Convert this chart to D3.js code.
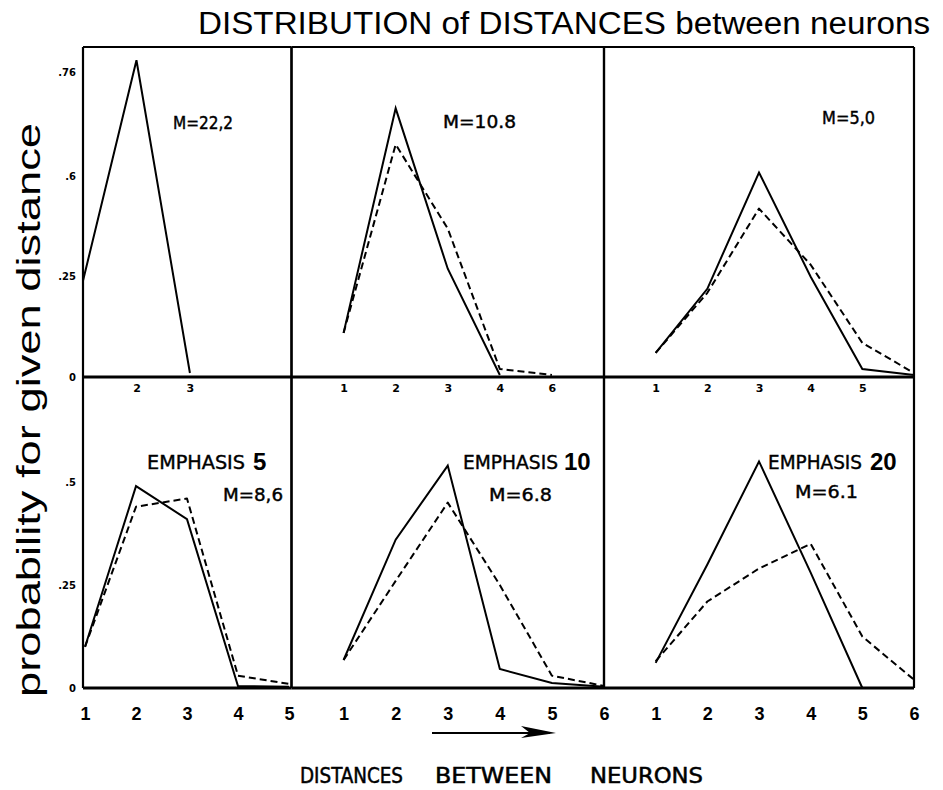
<!DOCTYPE html>
<html>
<head>
<meta charset="utf-8">
<script src="https://cdn.jsdelivr.net/npm/d3@7"></script>
<style>
  body { margin: 0; background: #fff; }
  svg { display: block; }
</style>
</head>
<body>
<script>
// ---- data: distance between neurons (x) and probability for that distance (y)
const distTopLeft = [1, 2, 3];
const solidTopLeft = [0.24, 0.79, 0.01];

const distTopMid = [1, 2, 3, 4, 5];
const solidTopMid = [0.11, 0.67, 0.27, 0.005];
const dashedTopMid = [0.11, 0.58, 0.37, 0.02, 0.005];

const distTopRight = [1, 2, 3, 4, 5, 6];
const solidTopRight = [0.06, 0.22, 0.51, 0.25, 0.02, 0.005];
const dashedTopRight = [0.06, 0.21, 0.42, 0.28, 0.085, 0.01];

const distBotLeft = [1, 2, 3, 4, 5];
const solidBotLeft = [0.10, 0.49, 0.41, 0.005, 0.003];
const dashedBotLeft = [0.10, 0.44, 0.46, 0.03, 0.01];

const distBotMid = [1, 2, 3, 4, 5, 6];
const solidBotMid = [0.068, 0.36, 0.54, 0.046, 0.012, 0.003];
const dashedBotMid = [0.068, 0.26, 0.45, 0.25, 0.03, 0.005];

const distBotRight = [1, 2, 3, 4, 5, 6];
const solidBotRight = [0.061, 0.30, 0.55, 0.28, 0.0];
const dashedBotRight = [0.065, 0.21, 0.29, 0.35, 0.125, 0.02];

// ---- tick values and their hand-lettered labels
const yTicksTop = [0, 0.25, 0.5, 0.76];
const yLabelsTop = ["0", ".25", ".6", ".76"];
const yTicksBot = [0, 0.25, 0.5];
const yLabelsBot = ["0", ".25", ".5"];

const xTicksTopLeft = [2, 3];
const xLabelsTopLeft = ["2", "3"];
const xTicksTopMid = [1, 2, 3, 4, 5];
const xLabelsTopMid = ["1", "2", "3", "4", "6"];
const xTicksTopRight = [1, 2, 3, 4, 5];
const xLabelsTopRight = ["1", "2", "3", "4", "5"];
const xTicksBotLeft = [1, 2, 3, 4, 5];
const xLabelsBotLeft = ["1", "2", "3", "4", "5"];
const xTicksBotMid = [1, 2, 3, 4, 5, 6];
const xLabelsBotMid = ["1", "2", "3", "4", "5", "6"];
const xTicksBotRight = [1, 2, 3, 4, 5, 6];
const xLabelsBotRight = ["1", "2", "3", "4", "5", "6"];

// ---- panel annotations
const meanLabels = ["M=22,2", "M=10.8", "M=5,0", "M=8,6", "M=6.8", "M=6.1"];
const emphasisWords = ["", "", "", "EMPHASIS", "EMPHASIS", "EMPHASIS"];
const emphasisValues = ["", "", "", "5", "10", "20"];

const titleText = "DISTRIBUTION of DISTANCES between neurons";
const yTitleText = "probability for given distance";
const xTitleWords = ["DISTANCES", "BETWEEN", "NEURONS"];

// ---- layout
const W = 943, H = 790;
const colEdges = [[83, 291.5], [291.5, 604], [604, 914]];
const rowEdges = [[47, 377], [377, 688]];
const letterFont = "'DejaVu Sans Condensed', 'Liberation Sans Narrow', 'DejaVu Sans', sans-serif";
const helv = "'Liberation Sans', Arial, sans-serif";

const svg = d3.select("body").append("svg")
  .attr("width", W).attr("height", H)
  .attr("viewBox", `0 0 ${W} ${H}`);

const yTop = d3.scaleLinear().domain([0, 0.823]).range([rowEdges[0][1], rowEdges[0][0]]);
const yBot = d3.scaleLinear().domain([0, 0.755]).range([rowEdges[1][1], rowEdges[1][0]]);

const panels = [
  { row: 0, col: 0, xDomain: [1, 4.9], dist: distTopLeft, solid: solidTopLeft, dashed: null,
    ticks: xTicksTopLeft, labels: xLabelsTopLeft,
    mean: { x: 173, y: 129, w: 60 } },
  { row: 0, col: 1, xDomain: [0, 6], dist: distTopMid, solid: solidTopMid, dashed: dashedTopMid,
    ticks: xTicksTopMid, labels: xLabelsTopMid,
    mean: { x: 443, y: 128, w: 73 } },
  { row: 0, col: 2, xDomain: [0, 6], dist: distTopRight, solid: solidTopRight, dashed: dashedTopRight,
    ticks: xTicksTopRight, labels: xLabelsTopRight,
    mean: { x: 822, y: 124, w: 53 } },
  { row: 1, col: 0, xDomain: [0.96, 5.05], dist: distBotLeft, solid: solidBotLeft, dashed: dashedBotLeft,
    ticks: xTicksBotLeft, labels: xLabelsBotLeft,
    mean: { x: 223, y: 501, w: 60 }, emph: { x: 147, y: 469, w: 98, vx: 253 } },
  { row: 1, col: 1, xDomain: [0, 6], dist: distBotMid, solid: solidBotMid, dashed: dashedBotMid,
    ticks: xTicksBotMid, labels: xLabelsBotMid,
    mean: { x: 489, y: 501, w: 63 }, emph: { x: 463, y: 469, w: 95, vx: 564 } },
  { row: 1, col: 2, xDomain: [0, 6], dist: distBotRight, solid: solidBotRight, dashed: dashedBotRight,
    ticks: xTicksBotRight, labels: xLabelsBotRight,
    mean: { x: 795, y: 498, w: 63 }, emph: { x: 768, y: 469, w: 94, vx: 870 } }
];

panels.forEach((p, i) => {
  const [x0, x1] = colEdges[p.col];
  const [yTopEdge, yBase] = rowEdges[p.row];
  const x = d3.scaleLinear().domain(p.xDomain).range([x0, x1]);
  const y = p.row === 0 ? yTop : yBot;
  const g = svg.append("g");

  // panel frame
  g.append("line").attr("x1", x0).attr("x2", x0).attr("y1", yTopEdge).attr("y2", yBase)
    .attr("stroke", "#000").attr("stroke-width", 2.2);
  g.append("line").attr("x1", x1).attr("x2", x1).attr("y1", yTopEdge).attr("y2", yBase)
    .attr("stroke", "#000").attr("stroke-width", 2.2);
  if (p.row === 0) {
    g.append("line").attr("x1", x0).attr("x2", x1).attr("y1", yTopEdge).attr("y2", yTopEdge)
      .attr("stroke", "#000").attr("stroke-width", 2.2);
  }

  const line = d3.line().x(d => x(d[0])).y(d => y(d[1]));

  if (p.dashed) {
    g.append("path").datum(d3.zip(p.dist, p.dashed))
      .attr("d", line).attr("fill", "none").attr("stroke", "#000")
      .attr("stroke-width", 2).attr("stroke-dasharray", "7,4")
      .attr("stroke-linejoin", "round");
  }
  g.append("path").datum(d3.zip(p.dist, p.solid))
    .attr("d", line).attr("fill", "none").attr("stroke", "#000")
    .attr("stroke-width", 2).attr("stroke-linejoin", "miter");

  // baseline
  g.append("line").attr("x1", x0).attr("x2", x1).attr("y1", yBase).attr("y2", yBase)
    .attr("stroke", "#000").attr("stroke-width", 3.2);

  // x tick labels
  const xAxis = d3.axisBottom(x).tickValues(p.ticks)
    .tickFormat((d, k) => p.labels[k]).tickSize(0)
    .tickPadding(p.row === 0 ? 7 : 19);
  const ax = g.append("g").attr("transform", `translate(0,${yBase})`).call(xAxis);
  ax.select(".domain").remove();
  ax.selectAll("text")
    .attr("font-family", p.row === 0 ? "'DejaVu Sans', sans-serif" : helv)
    .attr("font-weight", "bold")
    .attr("font-size", p.row === 0 ? 11 : 18)
    .attr("fill", "#000");

  // y tick labels on left column
  if (p.col === 0) {
    const yAxis = d3.axisLeft(y)
      .tickValues(p.row === 0 ? yTicksTop : yTicksBot)
      .tickFormat((d, k) => (p.row === 0 ? yLabelsTop : yLabelsBot)[k])
      .tickSize(0).tickPadding(7);
    const ay = g.append("g").attr("transform", `translate(${x0},0)`).call(yAxis);
    ay.select(".domain").remove();
    ay.selectAll("text")
      .attr("font-family", "'DejaVu Sans', sans-serif")
      .attr("font-weight", "bold")
      .attr("font-size", 10).attr("fill", "#000");
  }

  // annotations
  g.append("text").attr("x", p.mean.x).attr("y", p.mean.y)
    .attr("font-family", letterFont).attr("font-size", 18)
    .attr("stroke", "#000").attr("stroke-width", 0.4)
    .attr("textLength", p.mean.w).attr("lengthAdjust", "spacingAndGlyphs")
    .attr("fill", "#000").text(meanLabels[i]);
  if (p.emph) {
    g.append("text").attr("x", p.emph.x).attr("y", p.emph.y)
      .attr("font-family", letterFont).attr("font-size", 20)
      .attr("stroke", "#000").attr("stroke-width", 0.4)
      .attr("textLength", p.emph.w).attr("lengthAdjust", "spacingAndGlyphs")
      .attr("fill", "#000").text(emphasisWords[i]);
    g.append("text").attr("x", p.emph.vx).attr("y", p.emph.y + 1)
      .attr("font-family", helv).attr("font-weight", "bold").attr("font-size", 24)
      .attr("fill", "#000").text(emphasisValues[i]);
  }
});

// overall title
svg.append("text").attr("x", 198).attr("y", 34)
  .attr("font-family", helv).attr("font-size", 31)
  .attr("textLength", 732).attr("lengthAdjust", "spacingAndGlyphs")
  .attr("fill", "#000").text(titleText);

// y title
svg.append("text")
  .attr("transform", "translate(40,410) rotate(-90)")
  .attr("text-anchor", "middle")
  .attr("font-family", helv).attr("font-size", 34)
  .attr("textLength", 574).attr("lengthAdjust", "spacingAndGlyphs")
  .attr("fill", "#000").text(yTitleText);

// x title
const xTitlePos = [[300, 103], [435, 117], [590, 113]];
xTitleWords.forEach((w, k) => {
  svg.append("text").attr("x", xTitlePos[k][0]).attr("y", 783)
    .attr("font-family", letterFont).attr("font-size", 22)
    .attr("stroke", "#000").attr("stroke-width", 0.5)
    .attr("textLength", xTitlePos[k][1]).attr("lengthAdjust", "spacingAndGlyphs")
    .attr("fill", "#000").text(w);
});

// direction arrow under the bottom axis
svg.append("line").attr("x1", 432).attr("x2", 550).attr("y1", 733).attr("y2", 733)
  .attr("stroke", "#000").attr("stroke-width", 2);
svg.append("path").attr("d", "M521,726 L556,733 L521,738 L530,733 Z")
  .attr("fill", "#000");
</script>
</body>
</html>
